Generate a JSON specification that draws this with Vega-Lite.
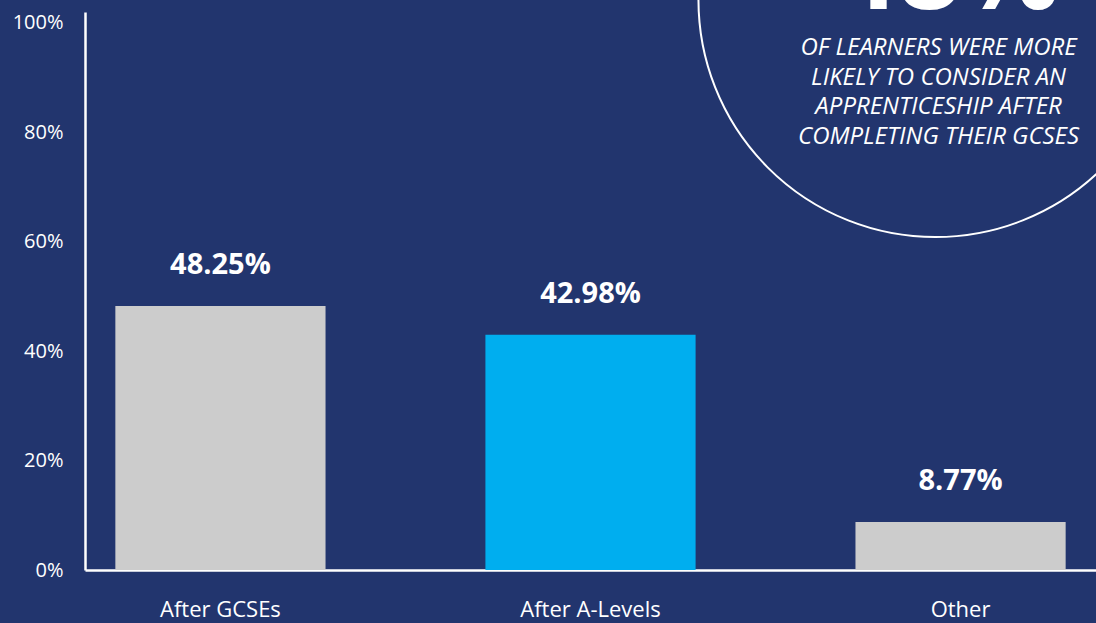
{
  "$schema": "https://vega.github.io/schema/vega-lite/v6.json",
  "autosize": "none",
  "width": 1011,
  "height": 558,
  "padding": {"left": 85, "top": 12, "right": 0, "bottom": 53},
  "background": "#22356E",
  "view": {"stroke": null},
  "config": {"font": "Open Sans"},
  "datasets": {
    "bars": [
      {"cat": "After GCSEs", "v": 48.25, "label": "48.25%", "group": "grey"},
      {"cat": "After A-Levels", "v": 42.98, "label": "42.98%", "group": "blue"},
      {"cat": "Other", "v": 8.77, "label": "8.77%", "group": "grey"}
    ],
    "note": [
      {"cat": "Other", "cy": 104.2, "hy": 102.5, "ty": 97.6, "big": "48%", "body": ["OF LEARNERS WERE MORE", "LIKELY TO CONSIDER AN", "APPRENTICESHIP AFTER", "COMPLETING THEIR GCSES"]}
    ]
  },
  "encoding": {
    "x": {
      "field": "cat", "type": "nominal", "sort": ["After GCSEs", "After A-Levels", "Other"],
      "scale": {"paddingInner": 0.432, "paddingOuter": 0.082},
      "axis": {"title": null, "labelAngle": 0, "ticks": false, "domainColor": "#FFFFFF", "domainWidth": 2.5, "labelColor": "#FFFFFF", "labelFontSize": 22, "labelPadding": 29, "labelFont": "Open Sans"}
    }
  },
  "layer": [
    {
      "data": {"name": "bars"},
      "mark": {"type": "bar"},
      "encoding": {
        "y": {
          "field": "v", "type": "quantitative",
          "scale": {"domain": [0, 102], "nice": false},
          "axis": {"title": null, "values": [0, 20, 40, 60, 80, 100], "labelExpr": "datum.value + '%'", "grid": false, "ticks": false, "domainColor": "#FFFFFF", "domainWidth": 2.5, "labelColor": "#FFFFFF", "labelFontSize": 20, "labelPadding": 22, "labelFont": "Open Sans"}
        },
        "color": {"field": "group", "type": "nominal", "scale": {"domain": ["grey", "blue"], "range": ["#CCCCCC", "#00AEEF"]}, "legend": null}
      }
    },
    {
      "data": {"name": "bars"},
      "mark": {"type": "text", "color": "#FFFFFF", "fontSize": 29, "fontWeight": "bold", "baseline": "alphabetic", "dy": -32},
      "encoding": {
        "y": {"field": "v", "type": "quantitative"},
        "text": {"field": "label"}
      }
    },
    {
      "data": {"name": "note"},
      "mark": {"type": "point", "shape": "circle", "filled": false, "stroke": "#FFFFFF", "strokeWidth": 2, "size": 224676, "opacity": 1},
      "encoding": {
        "y": {"field": "cy", "type": "quantitative"},
        "xOffset": {"value": 80}
      }
    },
    {
      "data": {"name": "note"},
      "mark": {"type": "text", "color": "#FFFFFF", "fontSize": 110, "fontWeight": "bold", "baseline": "alphabetic", "dx": -13},
      "encoding": {
        "y": {"field": "hy", "type": "quantitative"},
        "text": {"field": "big"}
      }
    },
    {
      "data": {"name": "note"},
      "mark": {"type": "text", "color": "#FFFFFF", "fontSize": 24, "fontStyle": "italic", "baseline": "top", "lineHeight": 29.5, "dx": -22},
      "encoding": {
        "y": {"field": "ty", "type": "quantitative"},
        "text": {"field": "body"}
      }
    }
  ]
}
